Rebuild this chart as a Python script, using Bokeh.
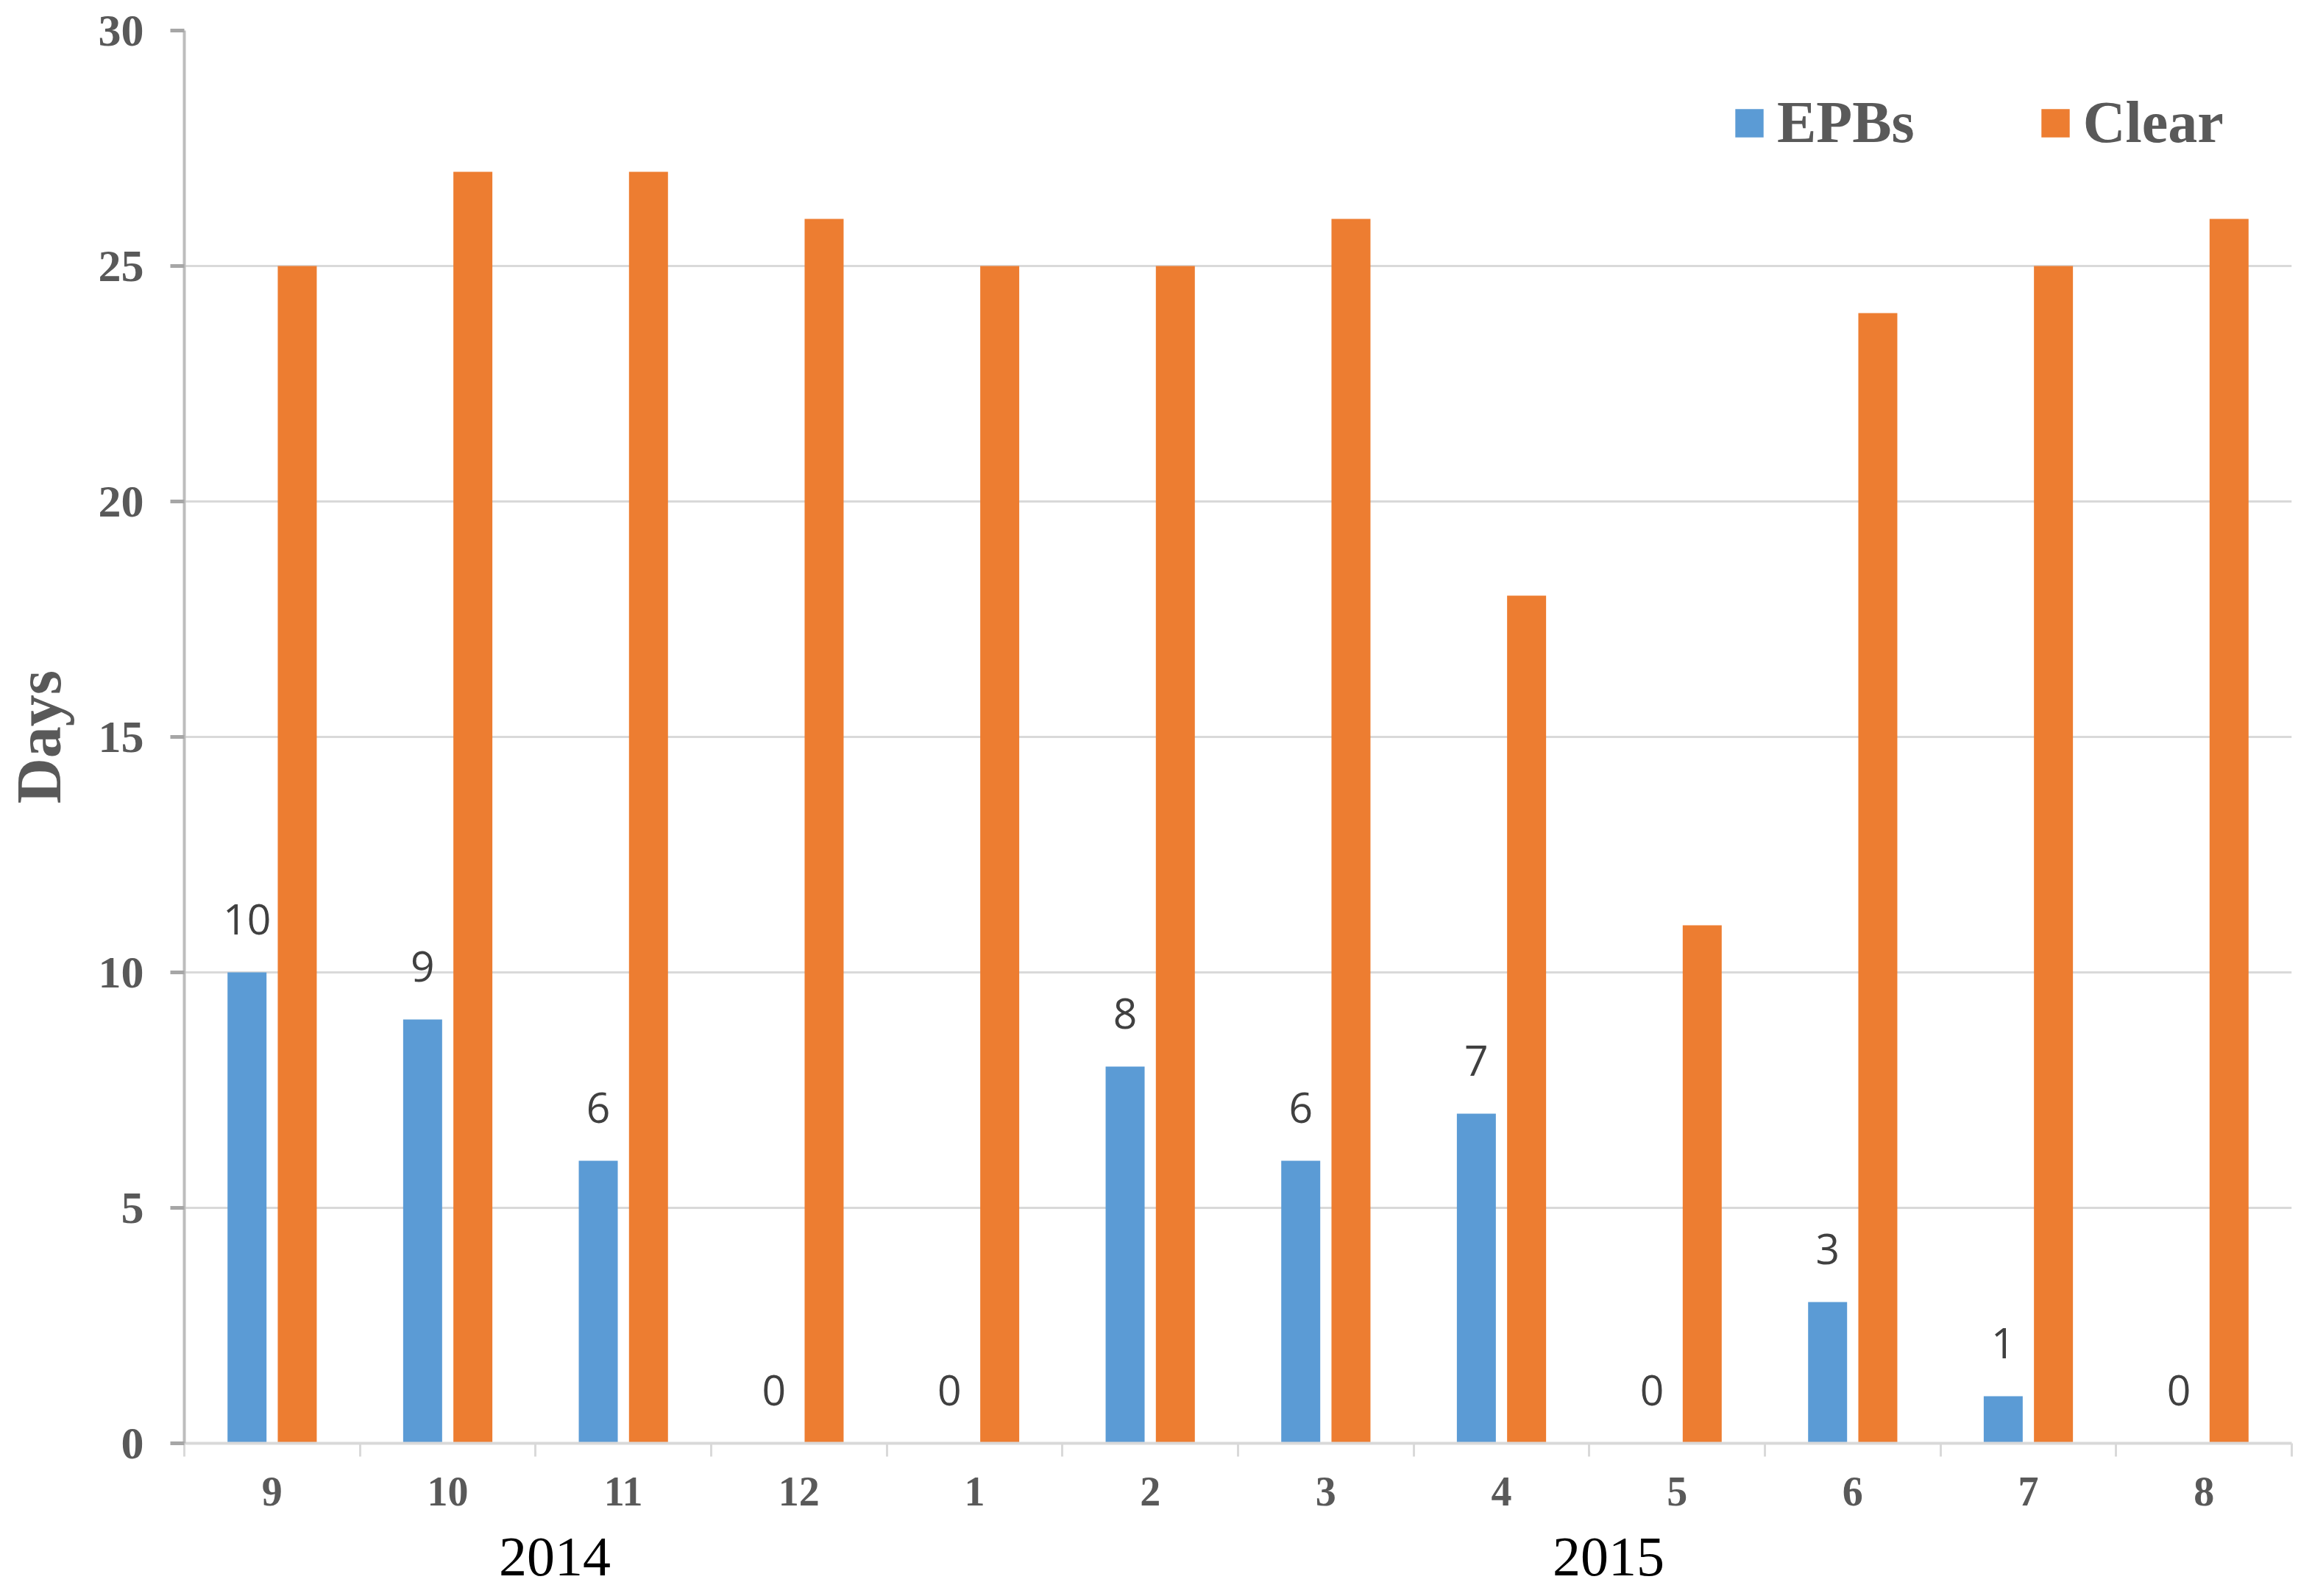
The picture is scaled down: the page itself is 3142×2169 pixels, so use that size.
from bokeh.plotting import figure
from bokeh.layouts import column
from bokeh.models import FixedTicker, Range1d, Legend, LegendItem, ColumnDataSource
from bokeh.core.properties import value
from bokeh.embed import file_html
from bokeh.resources import INLINE

# ---- data ----
months = ["9", "10", "11", "12", "1", "2", "3", "4", "5", "6", "7", "8"]
epbs = [10, 9, 6, 0, 0, 8, 6, 7, 0, 3, 1, 0]
clear = [25, 27, 27, 26, 25, 25, 26, 18, 11, 24, 25, 26]
years = ["2014", "2015"]
year_month_counts = [4, 8]
y_ticks = [0, 5, 10, 15, 20, 25, 30]

BLUE = "#5B9BD5"
ORANGE = "#ED7D31"
GRAY_TXT = "#595959"
SERIF = "Liberation Serif"

n = len(months)
centers = [i + 0.5 for i in range(n)]
boundaries = [i for i in range(n + 1)]
off = 0.143
bw = 0.222

src = ColumnDataSource(dict(
    xb=[c - off for c in centers],
    xo=[c + off for c in centers],
    epbs=epbs,
    clear=clear,
    lab=[str(v) for v in epbs],
))

W = 3126
BL, BR = 250, 12
x_range = Range1d(0, n)
p = figure(width=W, height=2061, output_backend="svg", toolbar_location=None,
           x_range=x_range, y_range=Range1d(0, 30),
           min_border_left=BL, min_border_right=BR, min_border_top=41, min_border_bottom=100)
p.outline_line_color = None
p.xgrid.grid_line_color = None
p.ygrid.grid_line_color = "#d9d9d9"
p.ygrid.grid_line_width = 3
p.ygrid.ticker = FixedTicker(ticks=y_ticks)

rb = p.vbar(x="xb", top="epbs", width=bw, bottom=0, source=src, fill_color=BLUE, line_color=None)
ro = p.vbar(x="xo", top="clear", width=bw, bottom=0, source=src, fill_color=ORANGE, line_color=None)

p.text(x="xb", y="epbs", text="lab", source=src, text_align="center", text_baseline="alphabetic",
       y_offset=-72, text_font=value("Open Sans"), text_font_size="57px", text_color="#404040")

# y axis
ya = p.yaxis[0]
ya.ticker = FixedTicker(ticks=y_ticks)
ya.axis_line_color = "#bdbdbd"
ya.axis_line_width = 4
ya.major_tick_out = 19
ya.major_tick_in = 0
ya.major_tick_line_color = "#a6a6a6"
ya.major_tick_line_width = 5
ya.minor_tick_line_color = None
ya.major_label_text_font = SERIF
ya.major_label_text_font_style = "bold"
ya.major_label_text_font_size = "62px"
ya.major_label_text_color = GRAY_TXT
ya.major_label_standoff = 36
ya.axis_label = "Days"
ya.axis_label_text_font = SERIF
ya.axis_label_text_font_style = "bold"
ya.axis_label_text_font_size = "86px"
ya.axis_label_text_color = GRAY_TXT
ya.axis_label_standoff = 30

# x axis (months)
xa = p.xaxis[0]
xa.ticker = FixedTicker(ticks=centers, minor_ticks=boundaries)
xa.major_label_overrides = {c: m for c, m in zip(centers, months)}
xa.axis_line_color = "#d9d9d9"
xa.axis_line_width = 4
xa.major_tick_line_color = None
xa.major_tick_out = 0
xa.major_tick_in = 0
xa.minor_tick_line_color = "#d9d9d9"
xa.minor_tick_line_width = 3
xa.minor_tick_out = 18
xa.minor_tick_in = 0
xa.major_label_text_font = SERIF
xa.major_label_text_font_style = "bold"
xa.major_label_text_font_size = "56px"
xa.major_label_text_color = GRAY_TXT
xa.major_label_standoff = 28

legend = Legend(items=[LegendItem(label="EPBs", renderers=[rb]),
                       LegendItem(label="Clear", renderers=[ro])],
                orientation="horizontal", location=(2103, 1749))
legend.glyph_width = 48
legend.glyph_height = 48
legend.label_standoff = 14
legend.spacing = 167
legend.padding = 0
legend.margin = 0
legend.border_line_color = None
legend.background_fill_alpha = 0
legend.label_text_font = SERIF
legend.label_text_font_style = "bold"
legend.label_text_font_size = "80px"
legend.label_text_color = GRAY_TXT
p.add_layout(legend, "center")

# ---- strip below holding the year labels ----
H2 = 108
year_pos = []
start = 0
for cnt in year_month_counts:
    year_pos.append(start + cnt / 2 + 0.11)
    start += cnt
ysrc = ColumnDataSource(dict(x=year_pos, y=[H2 / 2] * len(years), t=years))

p2 = figure(width=W, height=H2, output_backend="svg", toolbar_location=None,
            x_range=x_range, y_range=Range1d(0, H2),
            min_border_left=BL, min_border_right=BR, min_border_top=0, min_border_bottom=0)
p2.axis.visible = False
p2.grid.grid_line_color = None
p2.outline_line_color = None
p2.text(x="x", y="y", text="t", source=ysrc, text_align="center", text_baseline="middle",
        y_offset=0, text_font=value(SERIF), text_font_size="76px", text_color="black")

layout = column(p, p2, spacing=0)
open("out.html", "w").write(file_html(layout, INLINE))
